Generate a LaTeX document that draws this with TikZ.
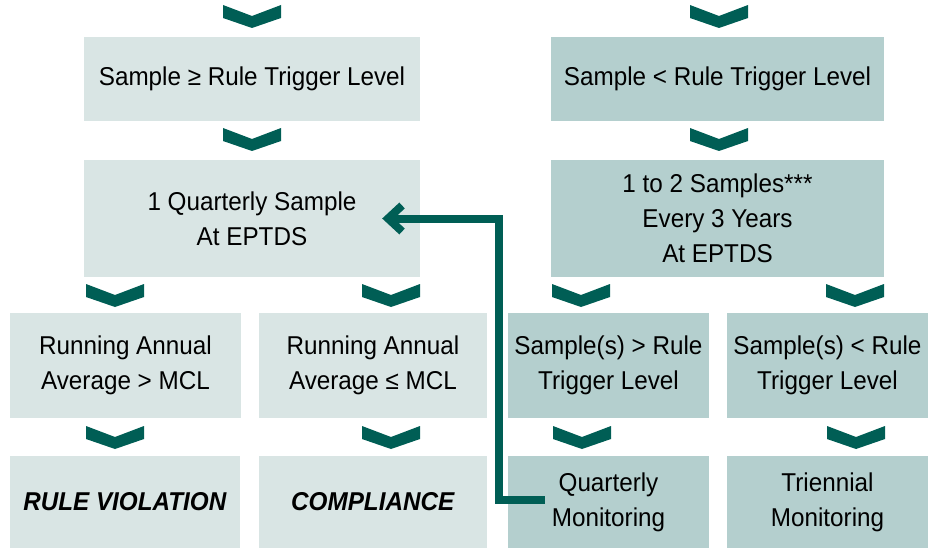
\documentclass[tikz,border=0pt]{standalone}
\usepackage{fontspec}
\setmainfont{Liberation Sans}[FakeStretch=0.94]
\usetikzlibrary{arrows.meta}
\definecolor{vertclair}{HTML}{D9E5E4}
\definecolor{vertmoyen}{HTML}{B4CFCE}
\definecolor{vertfonce}{HTML}{005E55}
\begin{document}
\begin{tikzpicture}[x=1pt,y=-1pt]
% définition des paramètres
\tikzstyle boite=[inner sep=0pt,align=center,font=\fontsize{25.8}{35}\selectfont]
\tikzstyle boiteclaire=[boite,fill=vertclair]
\tikzstyle boitefoncee=[boite,fill=vertmoyen]
\tikzstyle chevron=[fill=vertfonce]
\tikzstyle fleche=[draw=vertfonce,line width=8pt,-{Straight Barb[length=14pt,width=26pt]}]
\useasboundingbox (0,0) rectangle (928,548);
% les boîtes de gauche
\node[boiteclaire,minimum width=336pt,minimum height=84pt] (superieur) at (252,79) {Sample ≥ Rule Trigger Level};
\node[boiteclaire,minimum width=336pt,minimum height=117pt] (unechantillon) at (252,218.5) {1 Quarterly Sample\\At EPTDS};
\node[boiteclaire,minimum width=231pt,minimum height=105pt] (moyennehaute) at (125.5,365.5) {Running Annual\\Average > MCL};
\node[boiteclaire,minimum width=228pt,minimum height=105pt] (moyennebasse) at (373,365.5) {Running Annual\\Average ≤ MCL};
\node[boiteclaire,minimum width=230pt,minimum height=92pt] (violation) at (125,502) {\textbf{\textit{RULE VIOLATION}}};
\node[boiteclaire,minimum width=228pt,minimum height=92pt] (conformite) at (373,502) {\textbf{\textit{COMPLIANCE}}};
% les boîtes de droite
\node[boitefoncee,minimum width=333pt,minimum height=84pt] (inferieur) at (717.5,79) {Sample < Rule Trigger Level};
\node[boitefoncee,minimum width=333pt,minimum height=117pt] (triennal) at (717.5,218.5) {1 to 2 Samples***\\Every 3 Years\\At EPTDS};
\node[boitefoncee,minimum width=201pt,minimum height=105pt] (depasse) at (608.5,365.5) {Sample(s) > Rule\\Trigger Level};
\node[boitefoncee,minimum width=201pt,minimum height=105pt] (respecte) at (827.5,365.5) {Sample(s) < Rule\\Trigger Level};
\node[boitefoncee,minimum width=201pt,minimum height=92pt] (trimestriel) at (608.5,502) {Quarterly\\Monitoring};
\node[boitefoncee,minimum width=201pt,minimum height=92pt] (suivi) at (827.5,502) {Triennial\\Monitoring};
% les chevrons
\foreach \x/\y in {223/5,690/5,223/128,690/128,86/284,362/284,552/284,826/284,86/426,362/426,553/426,827/426}
    \fill[shift={(\x,\y)},chevron] (0,0) -- (29,11) -- (58,0) -- (58,13) -- (29,23) -- (0,13) -- cycle;
% la flèche de retour
\draw[fleche] ([shift={(37,-2)}]trimestriel.west) -- ++(-46,0) |- ([xshift=-38pt]unechantillon.east);
\end{tikzpicture}
\end{document}
